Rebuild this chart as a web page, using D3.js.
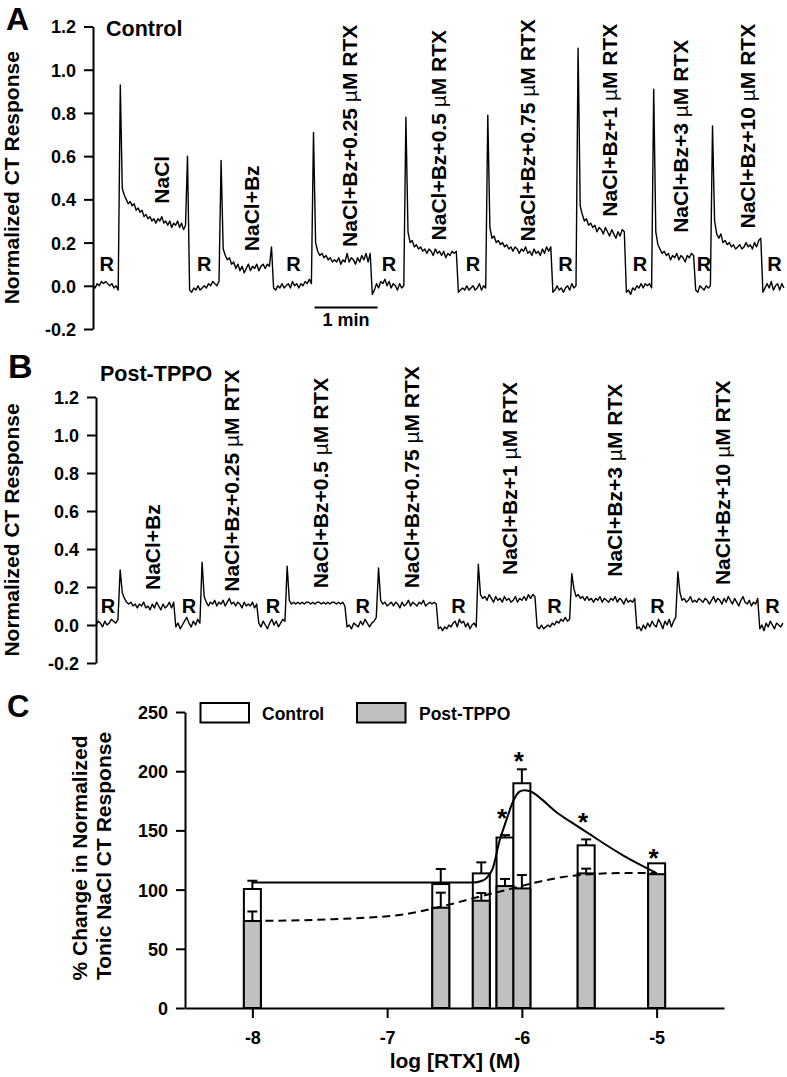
<!DOCTYPE html>
<html><head><meta charset="utf-8">
<script src="https://cdn.jsdelivr.net/npm/d3@7"></script>
<style>
body{margin:0;background:#fff}
svg{display:block}
text{font-family:"Liberation Sans",Arial,Helvetica,sans-serif;font-weight:bold;fill:#000}
</style>
</head><body>
<svg id="chart" width="787" height="1077"></svg>
<script>
// ---------------- DATA ----------------
const traceTicks = [-0.2, 0, 0.2, 0.4, 0.6, 0.8, 1.0, 1.2];

// Panel A (Control) trace: [startTime s, endTime s, values]; even segments are rinses (R)
const traceA = [
 [0, 26, [0.00,-0.01,0.01,0.00,0.02,0.01,0.02,0.01,0.00,0.01,-0.01,0.00,-0.02]],
 [26, 90, [0.93,0.45,0.42,0.40,0.38,0.39,0.37,0.38,0.35,0.36,0.34,0.35,0.32,0.33,0.31,0.32,0.30,0.31,0.29,0.31,0.30,0.32,0.29,0.30,0.28,0.30,0.27,0.29,0.28,0.30,0.27,0.29,0.26,0.28]],
 [90, 122, [0.60,-0.02,-0.03,-0.01,-0.02,0.00,-0.02,-0.01,0.00,-0.01,0.01,0.00,0.02,0.01,0.00,0.02]],
 [122, 172, [0.58,0.17,0.14,0.12,0.13,0.10,0.11,0.08,0.10,0.07,0.09,0.06,0.08,0.10,0.07,0.09,0.08,0.10,0.07,0.09,0.10,0.08,0.10,0.09,0.18]],
 [172, 210, [-0.01,-0.02,0.00,-0.01,0.01,-0.01,0.00,0.01,-0.01,0.02,0.00,0.01,-0.01,0.01,0.00,0.02,0.01,0.03,0.01]],
 [210, 266, [0.71,0.20,0.16,0.14,0.15,0.13,0.14,0.12,0.13,0.11,0.12,0.11,0.13,0.10,0.12,0.11,0.15,0.11,0.13,0.12,0.10,0.13,0.11,0.14,0.12,0.15,0.11,0.15]],
 [266, 298, [-0.04,-0.02,0.01,-0.01,0.02,0.01,0.03,0.00,0.02,-0.01,0.01,0.00,-0.02,0.01,-0.01,0.00]],
 [298, 348, [0.78,0.25,0.20,0.21,0.18,0.19,0.17,0.18,0.16,0.17,0.15,0.17,0.16,0.14,0.17,0.15,0.16,0.14,0.16,0.13,0.15,0.14,0.16,0.15,0.16]],
 [348, 376, [-0.03,-0.02,-0.01,-0.02,0.00,-0.02,-0.01,0.00,-0.02,-0.01,0.01,-0.02,0.00,-0.01]],
 [376, 438, [0.79,0.27,0.22,0.23,0.20,0.21,0.19,0.20,0.18,0.19,0.17,0.18,0.16,0.18,0.17,0.15,0.17,0.16,0.18,0.15,0.16,0.14,0.17,0.15,0.16,0.14,0.17,0.15,0.18,0.16,0.18]],
 [438, 462, [-0.03,-0.02,0.00,-0.02,-0.01,-0.03,-0.01,0.00,-0.02,0.01,-0.01,0.00]],
 [462, 508, [1.10,0.37,0.33,0.30,0.31,0.28,0.29,0.27,0.28,0.25,0.27,0.26,0.24,0.27,0.25,0.23,0.26,0.24,0.22,0.25,0.23,0.26,0.25]],
 [508, 534, [-0.03,-0.02,-0.04,-0.01,-0.02,0.00,-0.01,0.01,-0.01,0.01,0.00,0.01,-0.01]],
 [534, 574, [0.91,0.25,0.19,0.17,0.15,0.16,0.14,0.15,0.12,0.14,0.13,0.15,0.12,0.14,0.13,0.11,0.14,0.13,0.15,0.14]],
 [574, 590, [-0.02,-0.03,0.00,-0.01,-0.02,0.00,-0.01,0.00]],
 [590, 638, [0.74,0.30,0.24,0.22,0.24,0.20,0.21,0.19,0.20,0.18,0.19,0.17,0.18,0.19,0.17,0.18,0.20,0.18,0.19,0.17,0.20,0.18,0.21,0.22]],
 [638, 660, [-0.03,-0.01,0.01,-0.01,0.02,-0.02,0.00,0.01,-0.02,0.01,-0.01]]
];
const labelsA = ["NaCl","NaCl+Bz","NaCl+Bz+0.25 µM RTX","NaCl+Bz+0.5 µM RTX","NaCl+Bz+0.75 µM RTX","NaCl+Bz+1 µM RTX","NaCl+Bz+3 µM RTX","NaCl+Bz+10 µM RTX"];
const labelTimeA = [65, 150, 244, 329, 413, 491, 559, 623];
const labelBaseA = [0.38, 0.16, 0.18, 0.21, 0.205, 0.32, 0.245, 0.265];

// Panel B (Post-TPPO) trace
const traceB = [
 [0, 23, [0.00,0.02,0.01,-0.01,0.02,0.00,0.01,0.03,0.02,0.01,0.03]],
 [23, 76, [0.29,0.17,0.14,0.12,0.11,0.12,0.10,0.11,0.09,0.11,0.10,0.12,0.09,0.10,0.08,0.11,0.09,0.12,0.10,0.08,0.11,0.09,0.10,0.12,0.09,0.12]],
 [76, 101, [-0.01,0.01,-0.02,0.00,0.02,0.04,0.01,-0.01,0.02,0.00,0.03,0.01]],
 [101, 155, [0.33,0.15,0.12,0.10,0.12,0.11,0.13,0.10,0.12,0.11,0.13,0.10,0.12,0.14,0.11,0.12,0.10,0.12,0.11,0.09,0.12,0.10,0.11,0.10,0.12,0.09,0.11]],
 [155, 182, [0.01,-0.01,0.02,0.00,-0.02,0.01,0.03,0.00,0.02,-0.01,0.01,0.03,0.02]],
 [182, 239, [0.31,0.13,0.11,0.12,0.11,0.12,0.11,0.12,0.11,0.12,0.12,0.11,0.12,0.11,0.12,0.12,0.11,0.12,0.11,0.12,0.11,0.12,0.12,0.11,0.12,0.11,0.12,0.10]],
 [239, 269, [-0.01,0.00,-0.02,0.01,0.00,-0.01,0.02,0.00,0.03,0.01,-0.01,0.01,0.02,0.04]],
 [269, 326, [0.30,0.13,0.11,0.12,0.10,0.11,0.12,0.10,0.12,0.11,0.09,0.12,0.10,0.11,0.13,0.10,0.12,0.11,0.10,0.12,0.11,0.13,0.10,0.11,0.12,0.11,0.12,0.11]],
 [326, 364, [-0.02,-0.01,-0.03,-0.01,-0.02,0.00,-0.01,0.01,0.02,-0.01,0.03,0.01,0.02,-0.01,0.01,-0.02,0.00,0.01,-0.01]],
 [364, 420, [0.32,0.16,0.14,0.15,0.13,0.16,0.14,0.12,0.15,0.13,0.14,0.12,0.15,0.13,0.14,0.12,0.13,0.15,0.12,0.14,0.13,0.15,0.13,0.16,0.14,0.16,0.15]],
 [420, 453, [-0.01,-0.02,0.00,-0.02,-0.01,0.00,-0.01,0.01,0.00,0.02,0.01,0.03,0.02,0.04,0.02,0.03]],
 [453, 515, [0.27,0.19,0.15,0.16,0.14,0.15,0.13,0.15,0.13,0.14,0.12,0.14,0.13,0.15,0.12,0.14,0.13,0.12,0.14,0.13,0.15,0.12,0.14,0.13,0.11,0.14,0.12,0.13,0.12,0.14]],
 [515, 554, [-0.02,-0.01,-0.03,0.00,-0.02,0.01,-0.01,0.02,0.00,-0.01,0.03,0.01,-0.02,0.02,0.00,0.03,-0.01,0.02,0.04]],
 [554, 632, [0.28,0.17,0.13,0.14,0.12,0.13,0.15,0.12,0.13,0.12,0.14,0.13,0.12,0.14,0.13,0.11,0.13,0.15,0.12,0.14,0.13,0.11,0.14,0.12,0.15,0.13,0.11,0.14,0.12,0.10,0.13,0.15,0.12,0.11,0.13,0.10,0.12,0.11,0.14]],
 [632, 656, [-0.02,0.00,-0.03,0.01,-0.01,0.02,0.00,-0.02,0.01,0.00,-0.01,0.01]]
];
const labelsB = ["NaCl+Bz","NaCl+Bz+0.25 µM RTX","NaCl+Bz+0.5 µM RTX","NaCl+Bz+0.75 µM RTX","NaCl+Bz+1 µM RTX","NaCl+Bz+3 µM RTX","NaCl+Bz+10 µM RTX"];
const labelTimeB = [53, 129, 213, 300, 393, 493, 596];
const labelBaseB = [0.184, 0.175, 0.193, 0.193, 0.263, 0.254, 0.21];

// Panel C
const logRTX      = [-8, -6.602, -6.301, -6.125, -6, -5.523, -5];
const controlMean = [100.5, 104.7, 113.7, 144, 189.8, 137.4, 122.2];
const controlSEM  = [7, 12.7, 9.3, 2, 11.8, 5, 0];
const tppoMean    = [73.5, 84.7, 90.6, 103, 101, 113.7, 113];
const tppoSEM     = [8, 12.7, 6.5, 6, 11.3, 4, 0];
const sigLog      = [-6.125, -6, -5.523, -5];
const sigLevel    = [164, 212, 160.5, 130];
const controlFitX = [-8, -6.5, -6.36, -6.30, -6.265, -6.216, -6.166, -6.117, -6.067, -6.018, -5.98, -5.92, -5.85, -5.75, -5.6, -5.5, -5.25, -5.0];
const controlFitY = [106, 106, 106, 107.3, 109.5, 118, 141, 158, 174, 182.7, 184, 182, 176, 166, 154.5, 147, 129, 114];
const tppoFitX    = [-8, -7.4, -6.88, -6.587, -6.315, -6.117, -5.87, -5.622, -5.25, -5.0];
const tppoFitY    = [73.5, 75, 79, 86, 94, 99.7, 106.7, 111.7, 114, 114];
const cTicksY = [0, 50, 100, 150, 200, 250];
const cTicksX = [-8, -7, -6, -5];

// ---------------- DRAW ----------------
const svg = d3.select("#chart");
const FONT_TICK = 18, FONT_LAB = 21;

function tracePoints(segs){
  const pts = [];
  segs.forEach(([t0,t1,vals]) => {
    const dt = (t1 - t0) / vals.length;
    vals.forEach((v,i) => pts.push([t0 + i*dt, v]));
  });
  return pts;
}

function rotLabel(g, x, y, str, size){
  const t = g.append("text")
    .attr("transform", `translate(${x},${y}) rotate(-90)`)
    .attr("font-size", size);
  const parts = str.split("µ");
  t.append("tspan").text(parts[0]);
  if (parts.length > 1){
    t.append("tspan").attr("font-weight","normal").text("µ");
    t.append("tspan").text(parts[1]);
  }
  return t;
}

function styleAxis(g, width){
  g.select(".domain").attr("stroke","#000").attr("stroke-width",width);
  g.selectAll(".tick line").attr("stroke","#000").attr("stroke-width",width);
  g.selectAll(".tick text").attr("font-size",FONT_TICK).attr("font-family",'"Liberation Sans",Arial,sans-serif').attr("font-weight","bold").attr("fill","#000");
}

function tracePanel(cfg){
  const g = svg.append("g");
  const x = d3.scaleLinear().domain(cfg.tDomain).range(cfg.xRange);
  const y = d3.scaleLinear().domain([-0.2, 1.2]).range(cfg.yRange);
  const ax = g.append("g").attr("transform",`translate(${cfg.xRange[0]},0)`)
    .call(d3.axisLeft(y).tickValues(traceTicks).tickSize(9).tickSizeOuter(0).tickPadding(8).tickFormat(d => d.toFixed(1)));
  styleAxis(ax, 2);
  ax.selectAll(".tick text").attr("dy","0.36em");

  const line = d3.line().x(d => x(d[0])).y(d => y(d[1]));
  g.append("path").datum(tracePoints(cfg.trace)).attr("d", line)
    .attr("fill","none").attr("stroke","#000").attr("stroke-width",1.4).attr("stroke-linejoin","round");

  // R labels at rinse segments
  cfg.trace.forEach((s,i) => {
    if (i % 2 === 0){
      g.append("text").attr("x", x((s[0]+s[1])/2)).attr("y", y(0) - cfg.rOffset)
        .attr("text-anchor","middle").attr("font-size",20).text("R");
    }
  });
  cfg.labels.forEach((L,i) => {
    rotLabel(g, x(cfg.labelTime[i]) + 8, y(cfg.labelBase[i]), L, FONT_LAB);
  });
  // y label
  rotLabel(g, 19, (cfg.yRange[0]+cfg.yRange[1])/2, "Normalized CT Response", FONT_LAB).attr("text-anchor","middle");
  return {x, y, g};
}

// Panel A
const pA = tracePanel({tDomain:[0,660], xRange:[93,786], yRange:[329,26.5], trace:traceA,
  labels:labelsA, labelTime:labelTimeA, labelBase:labelBaseA, rOffset:15});
// scale bar 1 min
const sbStart = 211, sbLen = 60;
pA.g.append("line").attr("x1",pA.x(sbStart)).attr("x2",pA.x(sbStart+sbLen))
  .attr("y1",pA.y(-0.1)).attr("y2",pA.y(-0.1)).attr("stroke","#000").attr("stroke-width",2);
pA.g.append("text").attr("x",pA.x(sbStart+sbLen/2)).attr("y",pA.y(-0.1)+19)
  .attr("text-anchor","middle").attr("font-size",18).text("1 min");
svg.append("text").attr("x",6).attr("y",30).attr("font-size",32).text("A");
svg.append("text").attr("x",106).attr("y",36).attr("font-size",21.5).text("Control");

// Panel B
const pB = tracePanel({tDomain:[0,656], xRange:[96,785], yRange:[663,397], trace:traceB,
  labels:labelsB, labelTime:labelTimeB, labelBase:labelBaseB, rOffset:12});
svg.append("text").attr("x",8).attr("y",378).attr("font-size",34).text("B");
svg.append("text").attr("x",100).attr("y",381).attr("font-size",21.5).text("Post-TPPO");

// Panel C
const gC = svg.append("g");
const xC = d3.scaleLinear().domain([-8.5,-4.5]).range([185,724]);
const yC = d3.scaleLinear().domain([0,250]).range([1008,712]);
const BW = 17;

const axY = gC.append("g").attr("transform","translate(185,0)")
  .call(d3.axisLeft(yC).tickValues(cTicksY).tickSize(9).tickSizeOuter(0).tickPadding(8).tickFormat(d => String(d)));
styleAxis(axY, 2);
axY.selectAll(".tick text").attr("dy","0.36em");
const axX = gC.append("g").attr("transform","translate(0,1008)")
  .call(d3.axisBottom(xC).tickValues(cTicksX).tickSize(10).tickSizeOuter(0).tickPadding(13).tickFormat(d => String(d)));
styleAxis(axX, 2);

const idx = d3.range(logRTX.length);
// control (white) bars
gC.selectAll(".cbar").data(idx).join("rect").attr("class","cbar")
  .attr("x", i => xC(logRTX[i]) - BW/2).attr("width", BW)
  .attr("y", i => yC(controlMean[i])).attr("height", i => yC(0) - yC(controlMean[i]))
  .attr("fill","#fff").attr("stroke","#000").attr("stroke-width",2);
function errBars(mean, sem){
  idx.forEach(i => {
    if (sem[i] <= 0) return;
    const cx = xC(logRTX[i]);
    gC.append("line").attr("x1",cx).attr("x2",cx).attr("y1",yC(mean[i])).attr("y2",yC(mean[i]+sem[i]))
      .attr("stroke","#000").attr("stroke-width",2);
    gC.append("line").attr("x1",cx-5).attr("x2",cx+5).attr("y1",yC(mean[i]+sem[i])).attr("y2",yC(mean[i]+sem[i]))
      .attr("stroke","#000").attr("stroke-width",2);
  });
}
errBars(controlMean, controlSEM);
// post-TPPO (gray) bars
gC.selectAll(".tbar").data(idx).join("rect").attr("class","tbar")
  .attr("x", i => xC(logRTX[i]) - BW/2).attr("width", BW)
  .attr("y", i => yC(tppoMean[i])).attr("height", i => yC(0) - yC(tppoMean[i]))
  .attr("fill","#c0c0c0").attr("stroke","#000").attr("stroke-width",2);
errBars(tppoMean, tppoSEM);

// fitted curves
const fitLine = d3.line().x(d => xC(d[0])).y(d => yC(d[1])).curve(d3.curveMonotoneX);
gC.append("path").datum(controlFitX.map((v,i) => [v, controlFitY[i]])).attr("d", fitLine)
  .attr("fill","none").attr("stroke","#000").attr("stroke-width",2);
gC.append("path").datum(tppoFitX.map((v,i) => [v, tppoFitY[i]])).attr("d", fitLine)
  .attr("fill","none").attr("stroke","#000").attr("stroke-width",2).attr("stroke-dasharray","8,5");

// significance asterisks
sigLog.forEach((v,i) => {
  gC.append("text").attr("x", xC(v) - 3).attr("y", yC(sigLevel[i]) + 13)
    .attr("text-anchor","middle").attr("font-size",26).text("*");
});

// legend
const legend = [["Control","#fff",200.5,262],["Post-TPPO","#c0c0c0",357,419]];
legend.forEach(([name, fill, bx, tx]) => {
  gC.append("rect").attr("x",bx).attr("y",703).attr("width",48.5).attr("height",19.5)
    .attr("fill",fill).attr("stroke","#000").attr("stroke-width",2);
  gC.append("text").attr("x",tx).attr("y",720).attr("font-size",17.5).text(name);
});

// axis labels
gC.append("text").attr("x",455).attr("y",1068).attr("text-anchor","middle").attr("font-size",FONT_LAB).text("log [RTX] (M)");
rotLabel(gC, 87, 858, "% Change in Normalized", FONT_LAB).attr("text-anchor","middle");
rotLabel(gC, 111, 856, "Tonic NaCl CT Response", FONT_LAB).attr("text-anchor","middle");
svg.append("text").attr("x",7).attr("y",717).attr("font-size",31).text("C");
</script>
</body></html>
